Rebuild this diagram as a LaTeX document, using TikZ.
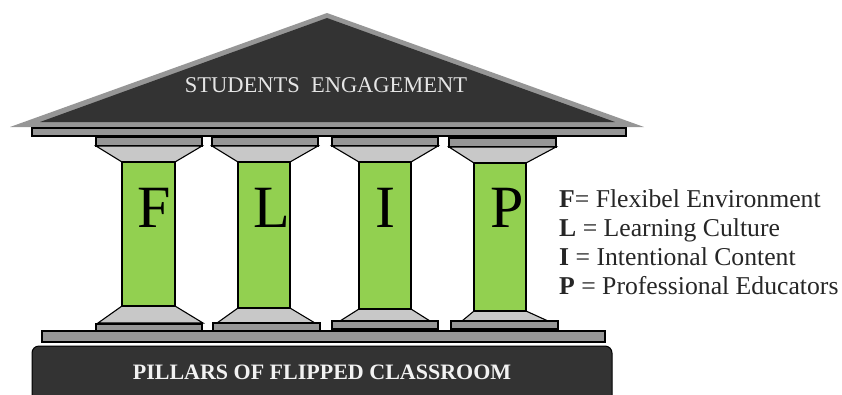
\documentclass[tikz,border=0pt]{standalone}
\usepackage{fontspec}
\setmainfont{Liberation Serif}
\definecolor{roofdark}{HTML}{333333}
\definecolor{slabgray}{HTML}{969696}
\definecolor{flarelight}{HTML}{C8C8C8}
\definecolor{shaftgreen}{HTML}{92D050}

\begin{document}
\begin{tikzpicture}[x=1pt, y=-1pt,
        slab/.style={draw=black, line width=1.1pt, fill=slabgray},
        flare/.style={draw=black, line width=1.1pt, fill=flarelight},
        shaft/.style={draw=black, line width=1.1pt, fill=shaftgreen},
        pillarletter/.style={font=\fontsize{60}{60}\selectfont, text=black, inner sep=0pt},
        legendline/.style={font=\fontsize{25.7}{28}\selectfont, text=black!85, anchor=base west, inner sep=0pt}]
        \clip (0,0) rectangle (842,394);

        % Roof
        \fill[slabgray] (10,127) -- (327,13) -- (644,127) -- cycle;
        \fill[roofdark] (40,122) -- (327,18) -- (615,122) -- cycle;
        \draw[slab] (32,128) rectangle (626,136);
        \node[text=white!90!black, font=\fontsize{22.5}{24}\selectfont, inner sep=0pt] (Roof) at (326,85) {STUDENTS\ \ ENGAGEMENT};

        % Pillar F
        \draw[slab] (96,137) rectangle (202,146);
        \draw[flare] (96,146) -- (202,146) -- (175,162) -- (122,162) -- cycle;
        \draw[flare] (122,306) -- (175,306) -- (203,323) -- (98,323) -- cycle;
        \draw[shaft] (122,162) rectangle (175,306);
        \draw[slab] (96,324) rectangle (202,331);
        \node[pillarletter] (F) at (154,208) {F};

        % Pillar L
        \draw[slab] (212,137) rectangle (318,146);
        \draw[flare] (212,146) -- (318,146) -- (290,162) -- (238,162) -- cycle;
        \draw[flare] (238,308) -- (290,308) -- (315,323) -- (217,323) -- cycle;
        \draw[shaft] (238,162) rectangle (290,308);
        \draw[slab] (213,323) rectangle (320,331);
        \node[pillarletter] (L) at (272,208) {L};

        % Pillar I
        \draw[slab] (332,137) rectangle (438,146);
        \draw[flare] (332,146) -- (438,146) -- (411,162) -- (359,162) -- cycle;
        \draw[flare] (359,309) -- (411,309) -- (430,321) -- (340,321) -- cycle;
        \draw[shaft] (359,162) rectangle (411,309);
        \draw[slab] (332,321) rectangle (438,329);
        \node[pillarletter] (I) at (385,208) {I};

        % Pillar P
        \draw[slab] (449,138) rectangle (556,147);
        \draw[flare] (449,147) -- (556,147) -- (526,163) -- (474,163) -- cycle;
        \draw[flare] (474,311) -- (526,311) -- (548,321) -- (462,321) -- cycle;
        \draw[shaft] (474,163) rectangle (526,311);
        \draw[slab] (451,321) rectangle (558,329);
        \node[pillarletter] (P) at (507,208) {P};

        % Base
        \draw[slab] (42,331) rectangle (605,342);
        \draw[black, line width=1pt, fill=roofdark, rounded corners=7pt] (32,346) rectangle (612,410);
        \node[text=white!95!black, font=\bfseries\fontsize{22}{23}\selectfont, inner sep=0pt] (Base) at (322,372) {PILLARS OF FLIPPED CLASSROOM};

        % Legend
        \node[legendline] (LegendF) at (559,207) {\textbf{F}= Flexibel Environment};
        \node[legendline] (LegendL) at (559,236) {\textbf{L} = Learning Culture};
        \node[legendline] (LegendI) at (559,265) {\textbf{I} = Intentional Content};
        \node[legendline] (LegendP) at (559,294) {\textbf{P} = Professional Educators};
\end{tikzpicture}
\end{document}
